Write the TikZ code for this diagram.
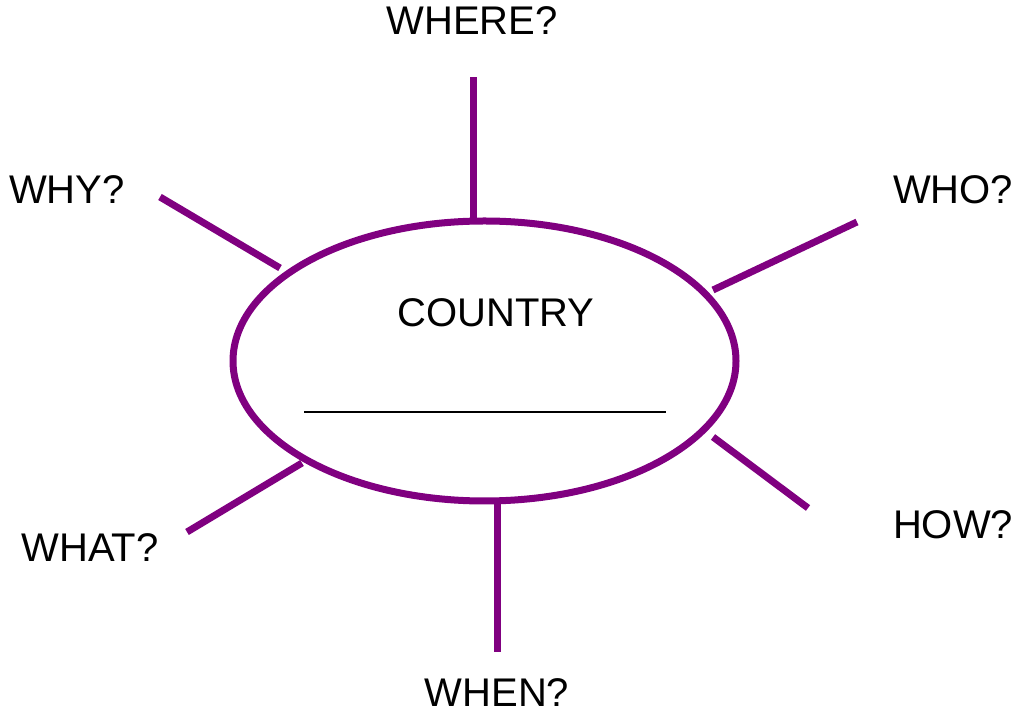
\documentclass[tikz,border=0pt]{standalone}
\usepackage{fontspec}
\setmainfont{Liberation Sans}
\usepackage{xcolor}
\usetikzlibrary{shapes.geometric}
\definecolor{mapPurple}{HTML}{800080}
\tikzset{
  spoke/.style={mapPurple,line width=3.5pt},
  qword/.style={font=\fontsize{20}{24}\selectfont,inner sep=0pt},
}

\begin{document}
\begin{tikzpicture}[x=0.5pt,y=-0.5pt]
  \useasboundingbox (0,0) rectangle (1023,715);

  \node[draw=mapPurple,line width=3.5pt,ellipse,inner sep=0pt,
    minimum width=251.5pt,minimum height=140pt] (country) at (484.5,361) {};
  \node[qword] (countryname) at (496,313) {COUNTRY};
  \coordinate (blankL) at (304,412);
  \coordinate (blankR) at (666,412);
  \draw[line width=1pt] (blankL) -- (blankR);

  \coordinate (whereIn) at (473,219);
  \coordinate (whereOut) at (473,77);
  \coordinate (whyIn) at (280,268);
  \coordinate (whyOut) at (160,197);
  \coordinate (whoIn) at (713,290);
  \coordinate (whoOut) at (857,222);
  \coordinate (whatIn) at (302,463);
  \coordinate (whatOut) at (187,532);
  \coordinate (howIn) at (713,437);
  \coordinate (howOut) at (808,508);
  \coordinate (whenIn) at (497,504);
  \coordinate (whenOut) at (497,652);

  \draw[spoke] (whereIn) -- (whereOut);
  \draw[spoke] (whyIn) -- (whyOut);
  \draw[spoke] (whoIn) -- (whoOut);
  \draw[spoke] (whatIn) -- (whatOut);
  \draw[spoke] (howIn) -- (howOut);
  \draw[spoke] (whenIn) -- (whenOut);

  \node[qword] (where) at (472,21) {WHERE?};
  \node[qword] (why) at (67,190) {WHY?};
  \node[qword] (who) at (953,190) {WHO?};
  \node[qword] (what) at (90,548) {WHAT?};
  \node[qword] (how) at (953,525) {HOW?};
  \node[qword] (when) at (497,693) {WHEN?};
\end{tikzpicture}
\end{document}
